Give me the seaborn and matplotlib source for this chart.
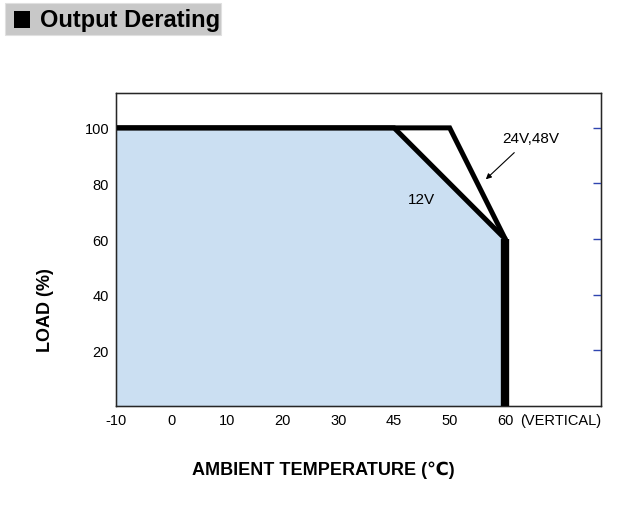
import numpy as np
import matplotlib
matplotlib.use("Agg")
import matplotlib.pyplot as plt
from matplotlib.patches import Rectangle
import seaborn as sns

# data
tick_temps = [-10, 0, 10, 20, 30, 45, 50, 60]
tick_labels = ["-10", "0", "10", "20", "30", "45", "50", "60", "(VERTICAL)"]
load_ticks = [20, 40, 60, 80, 100]

curve_12v_temp = [-10, 45, 60]
curve_12v_load = [100, 100, 60]
curve_24v_temp = [-10, 50, 60]
curve_24v_load = [100, 100, 60]

sns.set_style("white")
plt.rcParams['font.family'] = ['Liberation Sans', 'DejaVu Sans']
plt.rcParams['text.color'] = 'black'
plt.rcParams['axes.labelcolor'] = 'black'
plt.rcParams['xtick.color'] = 'black'
plt.rcParams['ytick.color'] = 'black'

# the axis is spaced evenly by label, not by value
positions = np.arange(len(tick_temps))
def to_pos(t):
    return np.interp(t, tick_temps, positions)

fig = plt.figure(figsize=(6.24, 5.06), dpi=100)
ax = fig.add_axes([0.186, 0.196, 0.777, 0.618])

x12 = to_pos(curve_12v_temp)
x24 = to_pos(curve_24v_temp)

# shaded area under the 12V curve
ax.fill_between(np.append(x12, x12[-1]), np.append(curve_12v_load, 0), 0,
                color="#cbdff2", lw=0, zorder=1)

sns.lineplot(x=x24, y=curve_24v_load, ax=ax, color="black", lw=3.6,
             solid_joinstyle="miter", sort=False, zorder=3)
sns.lineplot(x=x12, y=curve_12v_load, ax=ax, color="black", lw=3.6,
             solid_joinstyle="miter", sort=False, zorder=3)
ax.plot([x12[-1], x12[-1]], [0, curve_12v_load[-1]], color="black", lw=6,
        solid_capstyle="butt", zorder=3)

ax.set_xlim(0, 8.72)
ax.set_ylim(0, 112.5)
ax.set_xticks(np.arange(len(tick_labels)))
ax.set_xticklabels(tick_labels)
ax.set_yticks(load_ticks)
ax.tick_params(axis="both", direction="in", length=6, width=1.0,
               labelsize=10.5, pad=5)

# blue tick marks on the right edge, no labels
ax_r = ax.twinx()
ax_r.set_ylim(ax.get_ylim())
ax_r.set_yticks(load_ticks)
ax_r.tick_params(axis="y", direction="in", length=6, width=1.0,
                 color="#2f45b0", labelright=False)

for s in ax.spines.values():
    s.set_linewidth(1.0)
    s.set_color("black")

ax.text(5.5, 74.5, "12V", ha="center", va="center", fontsize=11)
ax.annotate("24V,48V", xy=(6.65, 81.5), xytext=(7.45, 96.5), ha="center", va="center",
            fontsize=11,
            arrowprops=dict(arrowstyle="-|>", color="black", lw=0.8,
                            shrinkA=5, shrinkB=0, mutation_scale=8))

ax.set_ylabel("LOAD (%)", fontsize=13, fontweight="bold")
ax.yaxis.set_label_coords(-0.128, 0.31)
ax.set_xlabel("AMBIENT TEMPERATURE (\u2103)", fontsize=13, fontweight="bold")
ax.xaxis.set_label_coords(0.427, -0.176)

# title block
fig.patches.append(Rectangle((5 / 624, 1 - 36 / 506), 216 / 624, 32 / 506,
                             transform=fig.transFigure, facecolor="#c8c8c8",
                             edgecolor="#e0e0e0", lw=0.8))
fig.patches.append(Rectangle((14 / 624, 1 - 29 / 506), 16 / 624, 17 / 506,
                             transform=fig.transFigure, facecolor="black", lw=0))
fig.text(40 / 624, 1 - 21 / 506, "Output Derating", fontsize=17, fontweight="bold",
         ha="left", va="center")

fig.savefig("out.png", dpi=100)
